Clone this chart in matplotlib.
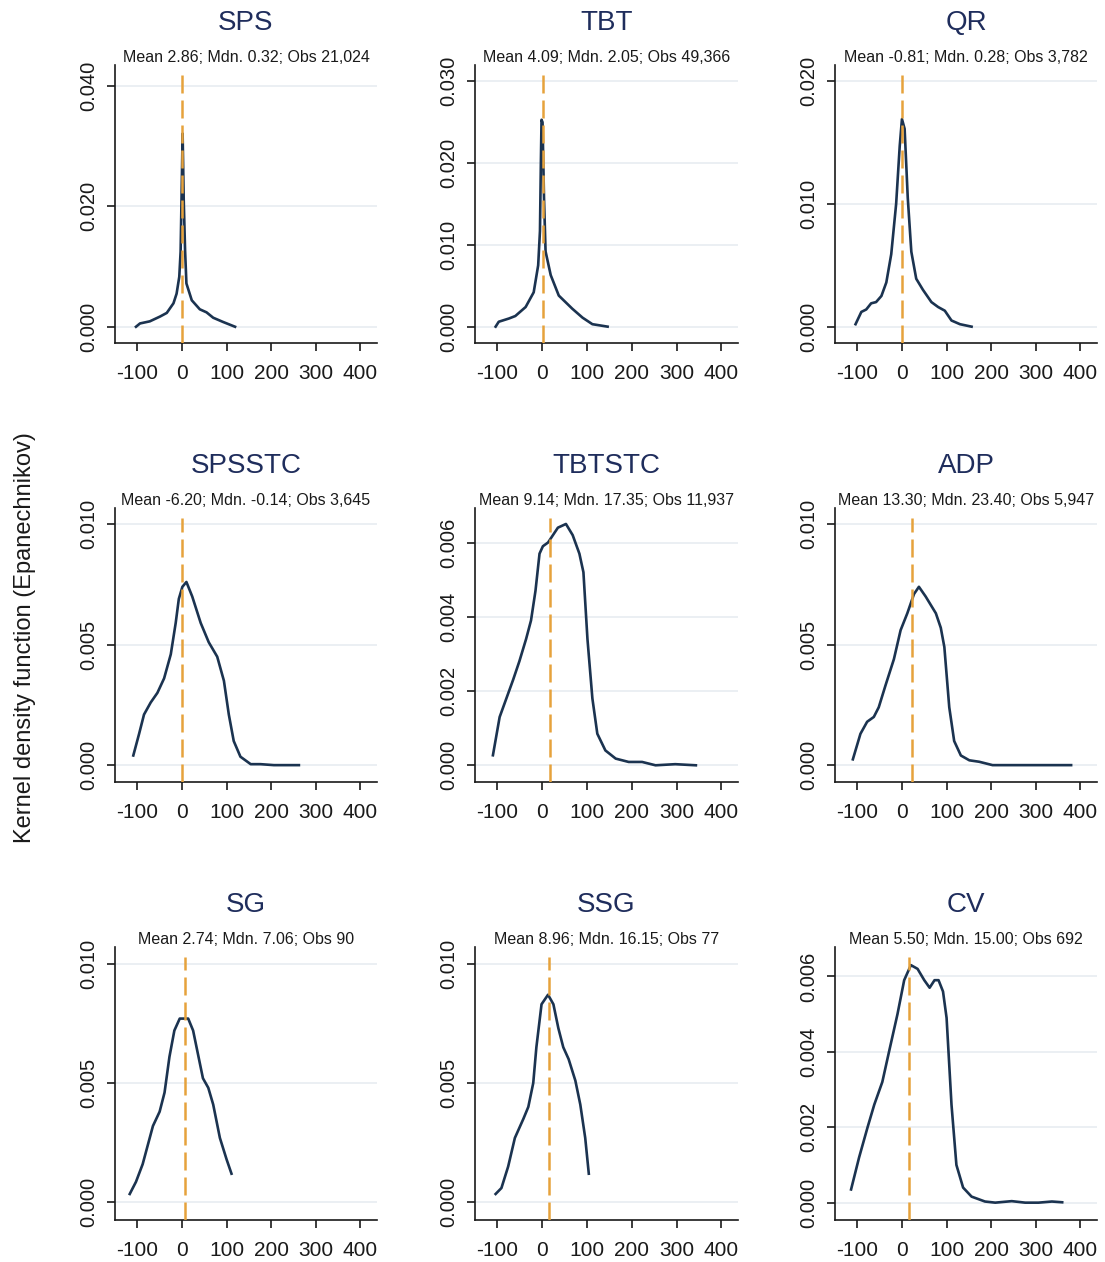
import matplotlib
matplotlib.use("Agg")
import matplotlib.pyplot as plt

plt.rcParams["font.family"] = ["Liberation Sans", "DejaVu Sans"]

W, H = 1105, 1262

TITLES = ["SPS", "TBT", "QR", "SPSSTC", "TBTSTC", "ADP", "SG", "SSG", "CV"]
MEANS = ["2.86", "4.09", "-0.81", "-6.20", "9.14", "13.30", "2.74", "8.96", "5.50"]
MEDIANS = [0.32, 2.05, 0.28, -0.14, 17.35, 23.40, 7.06, 16.15, 15.00]
OBS = ["21,024", "49,366", "3,782", "3,645", "11,937", "5,947", "90", "77", "692"]

# density curves (x in %, y density)
sps_x = [-103, -94, -72, -49, -34, -19, -12, -6, -3, -1, 1.5, 4, 7, 10, 22, 40, 55, 70, 92, 119]
sps_y = [0.0, 0.00055, 0.0009, 0.0017, 0.0023, 0.0039, 0.0055, 0.0083, 0.0125, 0.021, 0.0321,
         0.021, 0.0127, 0.0072, 0.0044, 0.0029, 0.0024, 0.0015, 0.0008, 0.0]
tbt_x = [-104, -97, -74, -60, -37, -19, -9, -5, -3, -1.5, 0.7, 4, 7.5, 19, 37, 67, 90, 112, 146]
tbt_y = [0.0, 0.0006, 0.001, 0.0013, 0.0024, 0.0042, 0.0075, 0.0117, 0.020, 0.0253, 0.025,
         0.0158, 0.0092, 0.0063, 0.0038, 0.0022, 0.0011, 0.0003, 0.0]
qr_x = [-104, -91, -80, -69, -58, -46, -35, -24, -13, -5, 0, 6, 13, 21, 32, 47, 66, 81, 96, 111, 130, 156]
qr_y = [0.0002, 0.0012, 0.0014, 0.0019, 0.002, 0.0025, 0.0036, 0.0059, 0.010, 0.0147, 0.0169,
        0.0161, 0.0105, 0.0061, 0.0039, 0.003, 0.002, 0.0016, 0.0013, 0.0005, 0.0002, 0.0]
spsstc_x = [-109, -96, -85, -70, -55, -40, -25, -14, -7, 1, 10, 23, 42, 60, 79, 94, 105, 116,
            131, 154, 176, 206, 262]
spsstc_y = [0.0004, 0.0013, 0.0021, 0.0026, 0.003, 0.0036, 0.0046, 0.0059, 0.0069, 0.0074,
            0.0076, 0.007, 0.0059, 0.0051, 0.0045, 0.0035, 0.0021, 0.001, 0.00035, 0.00004,
            0.00004, 0.0, 0.0]
tbtstc_x = [-110, -95, -80, -65, -51, -36, -25, -15, -6, 1.5, 13, 24, 35, 53, 68, 83, 92, 101,
            112, 123, 141, 164, 193, 223, 253, 297, 343]
tbtstc_y = [0.00027, 0.0013, 0.0018, 0.0023, 0.0028, 0.0034, 0.0039, 0.0047, 0.0057, 0.0059,
            0.006, 0.0062, 0.0064, 0.0065, 0.0062, 0.0057, 0.0052, 0.0034, 0.0018, 0.00085,
            0.0004, 0.00018, 0.00009, 0.00009, 0.0, 0.00003, 0.0]
adp_x = [-110, -93, -78, -63, -52, -37, -18, -3, 12, 27, 38, 53, 76, 87, 95, 106, 117, 132,
         151, 173, 203, 300, 379]
adp_y = [0.00024, 0.0013, 0.0018, 0.002, 0.0024, 0.0033, 0.0044, 0.0056, 0.0063, 0.0071,
         0.0074, 0.007, 0.0063, 0.0057, 0.0049, 0.0024, 0.001, 0.0004, 0.0002, 0.00014, 0.0,
         0.0, 0.0]
sg_x = [-117, -103, -88, -65, -50, -39, -28, -17, -5, 14, 25, 36, 47, 59, 70, 85, 100, 111]
sg_y = [0.00035, 0.00086, 0.0016, 0.0032, 0.0038, 0.0046, 0.0061, 0.0072, 0.0077, 0.0077,
        0.0072, 0.0062, 0.0052, 0.0048, 0.0041, 0.0027, 0.0018, 0.0012]
ssg_x = [-104, -91, -76, -61, -42, -31, -20, -13, -1.5, 13, 25, 36, 47, 59, 74, 85, 96, 104]
ssg_y = [0.00035, 0.0006, 0.0015, 0.0027, 0.0035, 0.004, 0.005, 0.0065, 0.0083, 0.0087,
         0.0083, 0.0073, 0.0065, 0.006, 0.0051, 0.0041, 0.0027, 0.0012]
cv_x = [-114, -96, -77, -62, -44, -29, -10, 5, 20, 35, 50, 62, 73, 82, 92, 100, 111, 122, 137,
        156, 186, 209, 246, 276, 306, 336, 359]
cv_y = [0.00035, 0.0012, 0.002, 0.0026, 0.0032, 0.004, 0.005, 0.0059, 0.0063, 0.0062, 0.0059,
        0.0057, 0.0059, 0.0059, 0.0056, 0.0049, 0.0026, 0.001, 0.0004, 0.00016, 0.00003, 0.0,
        0.00004, 0.0, 0.0, 0.00003, 0.00001]

CURVES = [(sps_x, sps_y), (tbt_x, tbt_y), (qr_x, qr_y), (spsstc_x, spsstc_y),
          (tbtstc_x, tbtstc_y), (adp_x, adp_y), (sg_x, sg_y), (ssg_x, ssg_y), (cv_x, cv_y)]

Y_TICKS = [
    [0, 0.02, 0.04], [0, 0.01, 0.02, 0.03], [0, 0.01, 0.02],
    [0, 0.005, 0.01], [0, 0.002, 0.004, 0.006], [0, 0.005, 0.01],
    [0, 0.005, 0.01], [0, 0.005, 0.01], [0, 0.002, 0.004, 0.006],
]
Y_LIMS = [
    (-0.0027, 0.0435), (-0.002, 0.032), (-0.00133, 0.0213),
    (-0.0007, 0.01067), (-0.00045, 0.00693), (-0.0007, 0.01067),
    (-0.00074, 0.0107), (-0.00074, 0.0107), (-0.00046, 0.00678),
]
X_TICKS = [-100, 0, 100, 200, 300, 400]

NAVY = "#1b3350"
TITLE_C = "#1f2d5c"
ORANGE = "#e6a23c"
GRID_C = "#e7ecf1"
TXT = "#1a1a1a"

# axes boxes in pixels: (left, right) per column, (top, bottom) per row
COLS = [(115, 377), (475, 738), (835, 1097)]
ROWS = [(65, 343), (508, 782), (947, 1220)]

fig = plt.figure(figsize=(W / 100, H / 100), dpi=100)
fig.patch.set_facecolor("white")

for i, title in enumerate(TITLES):
    x0, x1 = COLS[i % 3]
    y0, y1 = ROWS[i // 3]
    ax = fig.add_axes([x0 / W, 1 - y1 / H, (x1 - x0) / W, (y1 - y0) / H])
    xs, ys = CURVES[i]
    ax.plot(xs, ys, color=NAVY, lw=1.9, zorder=3)
    ax.axvline(MEDIANS[i], ymin=0, ymax=0.965, color=ORANGE, lw=1.8,
               dashes=(7.2, 2.8), zorder=4)
    ax.set_xlim(-150, 437)
    ax.set_ylim(*Y_LIMS[i])
    ax.set_xticks(X_TICKS)
    ax.set_xticklabels([str(t) for t in X_TICKS], fontsize=15, color=TXT)
    ax.set_yticks(Y_TICKS[i])
    ax.set_yticklabels([f"{t:.3f}" for t in Y_TICKS[i]], fontsize=14.5, color=TXT,
                       rotation=90, va="center")
    ax.tick_params(direction="out", length=6, width=1.2, colors=TXT)
    ax.tick_params(axis="x", pad=9)
    ax.tick_params(axis="y", pad=6)
    for s in ["top", "right"]:
        ax.spines[s].set_visible(False)
    for s in ["left", "bottom"]:
        ax.spines[s].set_linewidth(1.2)
        ax.spines[s].set_color(TXT)
    ax.yaxis.grid(True, color=GRID_C, lw=1.2, zorder=0)
    ax.set_axisbelow(True)
    sub = f"Mean {MEANS[i]}; Mdn. {MEDIANS[i]:.2f}; Obs {OBS[i]}"
    ax.text(0.5, 1.0 + 8 / (y1 - y0), sub, transform=ax.transAxes, ha="center",
            va="center", fontsize=11.5, color=TXT)
    ax.text(0.5, 1.0 + 42 / (y1 - y0), title, transform=ax.transAxes, ha="center",
            va="center", fontsize=20, color=TITLE_C)

fig.text(25 / W, 1 - 638 / H, "Kernel density function (Epanechnikov)", rotation=90,
         ha="center", va="center", fontsize=17, color=TXT)

fig.savefig("out.png", dpi=100, facecolor="white")
